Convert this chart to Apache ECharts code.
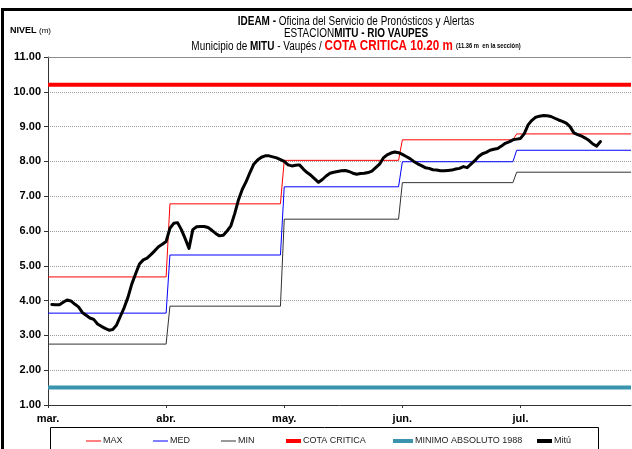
<!DOCTYPE html>
<html>
<head>
<meta charset="utf-8">
<script src="https://cdn.jsdelivr.net/npm/echarts@6/dist/echarts.min.js"></script>
<style>
html,body{margin:0;padding:0;background:#fff;}
#c{width:632px;height:449px;}
</style>
</head>
<body>
<div id="c"></div>
<script>
// ---- data ----
var tickLabels = ['mar.', 'abr.', 'may.', 'jun.', 'jul.'];
var tickDays = [0, 31, 62, 93, 124];
var monthStartDay = [0, 32, 62, 93, 123];
var monthEndDay = [31, 61, 92, 122, 153];
var maxVals = [4.68, 6.78, 8.03, 8.62, 8.79];
var medVals = [3.64, 5.31, 7.27, 7.99, 8.32];
var minVals = [2.75, 3.84, 6.34, 7.39, 7.69];
var cotaCritica = 10.20;
var minimoAbsoluto = 1.50;
var legendNames = ['MAX', 'MED', 'MIN', 'COTA CRITICA', 'MINIMO ABSOLUTO 1988', 'Mitú'];
var mituStartDay = 1;
var mituVals = [
  3.89, 3.88, 3.88, 3.95, 4.02, 3.99, 3.90, 3.82, 3.66, 3.58,
  3.50, 3.46, 3.33, 3.26, 3.20, 3.15, 3.17, 3.30, 3.55, 3.80,
  4.10, 4.48, 4.77, 5.05, 5.17, 5.22, 5.32, 5.43, 5.55, 5.62,
  5.70, 6.08, 6.22, 6.24, 6.04, 5.78, 5.50, 6.04, 6.12, 6.13,
  6.13, 6.10, 6.02, 5.93, 5.86, 5.88, 6.00, 6.15, 6.50, 6.90,
  7.20, 7.42, 7.68, 7.92, 8.04, 8.12, 8.16, 8.16, 8.13, 8.10,
  8.05, 8.00, 7.90, 7.87, 7.89, 7.90, 7.78, 7.68, 7.60, 7.50,
  7.40, 7.48, 7.58, 7.66, 7.69, 7.71, 7.73, 7.74, 7.71, 7.66,
  7.63, 7.65, 7.66, 7.68, 7.72, 7.82, 7.92, 8.10, 8.19, 8.24,
  8.27, 8.25, 8.20, 8.14, 8.08, 8.00, 7.93, 7.88, 7.82, 7.80,
  7.76, 7.75, 7.73, 7.73, 7.74, 7.75, 7.78, 7.80, 7.85, 7.82,
  7.92, 8.02, 8.14, 8.22, 8.26, 8.32, 8.35, 8.37, 8.44, 8.52,
  8.56, 8.62, 8.64, 8.66, 8.80, 9.05, 9.18, 9.27, 9.30, 9.32,
  9.31, 9.29, 9.24, 9.19, 9.15, 9.10, 9.00, 8.82, 8.77, 8.73,
  8.67, 8.60, 8.50, 8.44, 8.57
];

// ---- build series data ----
function stepData(vals) {
  var out = [];
  for (var i = 0; i < vals.length; i++) {
    out.push([monthStartDay[i], vals[i]]);
    out.push([monthEndDay[i], vals[i]]);
  }
  return out;
}
function constData(v) {
  return [[monthStartDay[0], v], [monthEndDay[monthEndDay.length - 1], v]];
}
var mituData = mituVals.map(function (v, i) { return [mituStartDay + i, v]; });

var FONT = "'Liberation Sans Narrow', 'Arial Narrow', 'Liberation Sans', Arial, sans-serif";
var XMAX = 153;

// legend layout (one legend per item for exact placement)
var legendLeft = [86, 153, 221, 286, 393, 537];
var legendIconW = [15, 15, 15, 15, 20, 15];
var legendIconH = [1, 1, 1, 4, 4, 4];
var legends = legendNames.map(function (n, i) {
  return {
    left: legendLeft[i], top: 436.5, padding: 0,
    icon: 'rect', itemWidth: legendIconW[i], itemHeight: legendIconH[i],
    textStyle: {fontSize: 9, fontFamily: FONT, color: '#222', padding: [0, 0, 0, -3]},
    data: [n], selectedMode: false
  };
});

var chart = echarts.init(document.getElementById('c'), null, {renderer: 'canvas'});
var lineBase = {type: 'line', showSymbol: false, symbol: 'none', animation: false, silent: true};

chart.setOption({
  animation: false,
  backgroundColor: '#fff',
  grid: {left: 48, right: 1, top: 57, bottom: 44, containLabel: false},
  graphic: [
    {type: 'rect', shape: {x: 2.5, y: 9.5, width: 700, height: 500},
     style: {fill: 'none', stroke: '#000', lineWidth: 3}, z: 100, silent: true},
    {type: 'rect', shape: {x: 50.5, y: 427.5, width: 548, height: 40},
     style: {fill: 'none', stroke: '#000', lineWidth: 1}, z: 100, silent: true},
    {type: 'text', x: 10, y: 26, z: 100,
     style: {text: '{b|NIVEL} {n|(m)}', font: '9px ' + FONT,
       rich: {b: {fontWeight: 'bold', fontSize: 9, fontFamily: FONT, fill: '#000'},
              n: {fontSize: 8, fontFamily: FONT, fill: '#000'}}}},
    {type: 'text', x: 356, y: 15, z: 100, scaleX: 0.83,
     style: {
       align: 'center',
       text: '{b|IDEAM -} {n|Oficina del Servicio de Pronósticos y Alertas}\n' +
             '{n|ESTACION}{b|MITU - RIO VAUPES}\n' +
             '{n|Municipio de }{b|MITU}{n| - Vaupés / }{r|COTA CRITICA 10.20 m}{s|  (11.36 m  en la sección)}',
       rich: {
         b: {fontWeight: 'bold', fontSize: 12, fontFamily: FONT, fill: '#000', lineHeight: 12.5},
         n: {fontSize: 12, fontFamily: FONT, fill: '#000', lineHeight: 12.5},
         r: {fontWeight: 'bold', fontSize: 14, fontFamily: FONT, fill: '#ff0000', lineHeight: 12.5},
         s: {fontWeight: 'bold', fontSize: 7, fontFamily: FONT, fill: '#000', lineHeight: 12.5}
       }
     }}
  ],
  legend: legends,
  xAxis: {
    type: 'value', min: 0, max: XMAX, interval: 31,
    axisLine: {onZero: false, lineStyle: {color: '#333', width: 1}},
    axisTick: {show: true, length: 3, customValues: tickDays, lineStyle: {color: '#333'}},
    splitLine: {show: false},
    axisLabel: {
      margin: 8, fontSize: 11, fontWeight: 'bold', fontFamily: FONT, color: '#000',
      customValues: tickDays,
      formatter: function (v) { var i = tickDays.indexOf(v); return i >= 0 ? tickLabels[i] : ''; }
    }
  },
  yAxis: {
    type: 'value', min: 1, max: 11, interval: 1,
    axisLine: {show: true, lineStyle: {color: '#333', width: 1}},
    axisTick: {show: true, length: 4, lineStyle: {color: '#333'}},
    splitLine: {show: true, lineStyle: {color: '#9a9a9a', type: [1, 1], width: 1}},
    axisLabel: {
      margin: 7, fontSize: 11, fontWeight: 'bold', fontFamily: FONT, color: '#000',
      formatter: function (v) { return v.toFixed(2); }
    }
  },
  series: [
    Object.assign({}, lineBase, {name: 'MAX', data: stepData(maxVals), color: '#ff0000',
      lineStyle: {color: '#ff0000', width: 1}, z: 3,
      markLine: {silent: true, symbol: 'none', label: {show: false},
        lineStyle: {color: '#8c8c8c', type: 'solid', width: 1}, data: [{yAxis: 11}]}}),
    Object.assign({}, lineBase, {name: 'MED', data: stepData(medVals), color: '#0000ff',
      lineStyle: {color: '#0000ff', width: 1}, z: 3}),
    Object.assign({}, lineBase, {name: 'MIN', data: stepData(minVals), color: '#333333',
      lineStyle: {color: '#333333', width: 1}, z: 3}),
    Object.assign({}, lineBase, {name: 'COTA CRITICA', data: constData(cotaCritica), color: '#ff0000',
      lineStyle: {color: '#ff0000', width: 4}, z: 3}),
    Object.assign({}, lineBase, {name: 'MINIMO ABSOLUTO 1988', data: constData(minimoAbsoluto), color: '#3a94ae',
      lineStyle: {color: '#3a94ae', width: 4}, z: 3}),
    Object.assign({}, lineBase, {name: 'Mitú', data: mituData, color: '#000',
      lineStyle: {color: '#000', width: 3, cap: 'round', join: 'round'}, z: 5})
  ]
});
</script>
</body>
</html>
